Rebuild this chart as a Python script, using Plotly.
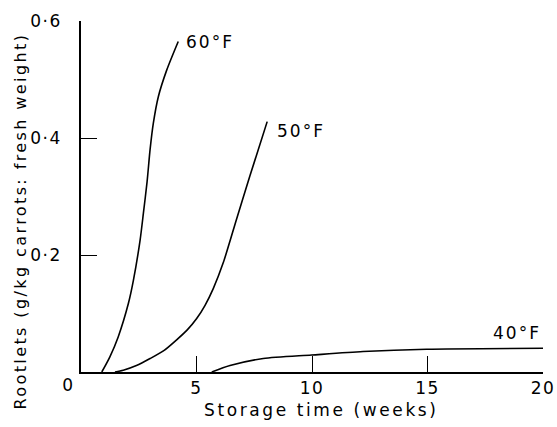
import plotly.graph_objects as go

# Data
weeks_60F = [0.9, 1.25, 1.61, 2.05, 2.27, 2.56, 2.70, 2.86, 2.99, 3.13, 3.35, 3.71, 4.21]
rootlets_60F = [0.0, 0.026, 0.060, 0.117, 0.157, 0.226, 0.271, 0.325, 0.380, 0.425, 0.471, 0.516, 0.565]

weeks_50F = [1.47, 1.83, 2.4, 2.99, 3.6, 4.14, 4.6, 5.0, 5.37, 5.73, 6.16, 6.74, 7.31, 8.06]
rootlets_50F = [0.0, 0.003, 0.011, 0.023, 0.037, 0.055, 0.072, 0.091, 0.114, 0.143, 0.187, 0.262, 0.335, 0.428]

weeks_40F = [5.66, 6.45, 7.89, 9.98, 12.21, 14.96, 20.0]
rootlets_40F = [0.0, 0.011, 0.023, 0.029, 0.035, 0.039, 0.0405]

series_labels = ["60°F", "50°F", "40°F"]
x_tick_vals = [5, 10, 15, 20]
x_tick_text = ["5", "10", "15", "20"]
y_tick_vals = [0.2, 0.4, 0.6]
y_tick_text = ["0·2", "0·4", "0·6"]
x_title = "Storage time (weeks)"
y_title = "Rootlets (g/kg carrots: fresh weight)"

FONT = "DejaVu Sans"
fig = go.Figure()
for xs, ys in [(weeks_60F, rootlets_60F), (weeks_50F, rootlets_50F), (weeks_40F, rootlets_40F)]:
    fig.add_trace(go.Scatter(x=xs, y=ys, mode="lines",
                             line=dict(color="black", width=1.6, shape="spline", smoothing=0.7),
                             showlegend=False, hoverinfo="skip"))

label_pos = [(5.58, 0.564), (9.52, 0.412), (18.86, 0.0667)]
for text, (lx, ly) in zip(series_labels, label_pos):
    fig.add_annotation(x=lx, y=ly, text=text, showarrow=False,
                       font=dict(family=FONT, size=17, color="black"))

# shared origin label
fig.add_annotation(x=0, y=0, xref="x", yref="y", text="0", showarrow=False,
                   xshift=-13, yshift=-13, font=dict(family=FONT, size=17, color="black"))

# axis titles (placed as in the reference, slightly off-centre)
fig.add_annotation(x=0.5216, y=-0.108, xref="paper", yref="paper", text=x_title,
                   showarrow=False, xanchor="center", yanchor="middle",
                   font=dict(family=FONT, size=17, color="black"))
fig.add_annotation(x=-0.132, y=0.43, xref="paper", yref="paper", text=y_title,
                   showarrow=False, textangle=-90, xanchor="center", yanchor="middle",
                   font=dict(family=FONT, size=16, color="black"))

fig.update_xaxes(range=[0, 20], showline=True, linecolor="black", linewidth=1.6,
                 ticks="inside", ticklen=16, tickwidth=1.2, tickcolor="black",
                 tickvals=x_tick_vals, ticktext=x_tick_text, showgrid=False, zeroline=False,
                 tickfont=dict(family=FONT, size=17, color="black"), automargin=False)
fig.update_yaxes(range=[0, 0.6], showline=True, linecolor="black", linewidth=1.6,
                 ticks="inside", ticklen=16, tickwidth=1.2, tickcolor="black",
                 tickvals=y_tick_vals, ticktext=y_tick_text, showgrid=False, zeroline=False,
                 tickfont=dict(family=FONT, size=17, color="black"), automargin=False,
                 ticklabelstandoff=14)

fig.update_layout(width=557, height=427, margin=dict(l=81, r=14, t=21, b=55),
                  plot_bgcolor="white", paper_bgcolor="white")

post = """
document.body.style.margin = '0';
document.body.style.overflow = 'hidden';
var gd = document.getElementById('{plot_id}');
gd.querySelectorAll('text').forEach(function(t){
  var s = t.textContent || '';
  if (s.indexOf('Rootlets') === 0) { t.style.letterSpacing = '2.4px'; }
  else if (s.indexOf('Storage') === 0) { t.style.letterSpacing = '2.6px'; }
  else if (s.indexOf('°F') >= 0) { t.style.letterSpacing = '2px'; }
  else { t.style.letterSpacing = '1.5px'; }
});
"""
fig.write_html("out.html", post_script=post, config={"displayModeBar": False})
